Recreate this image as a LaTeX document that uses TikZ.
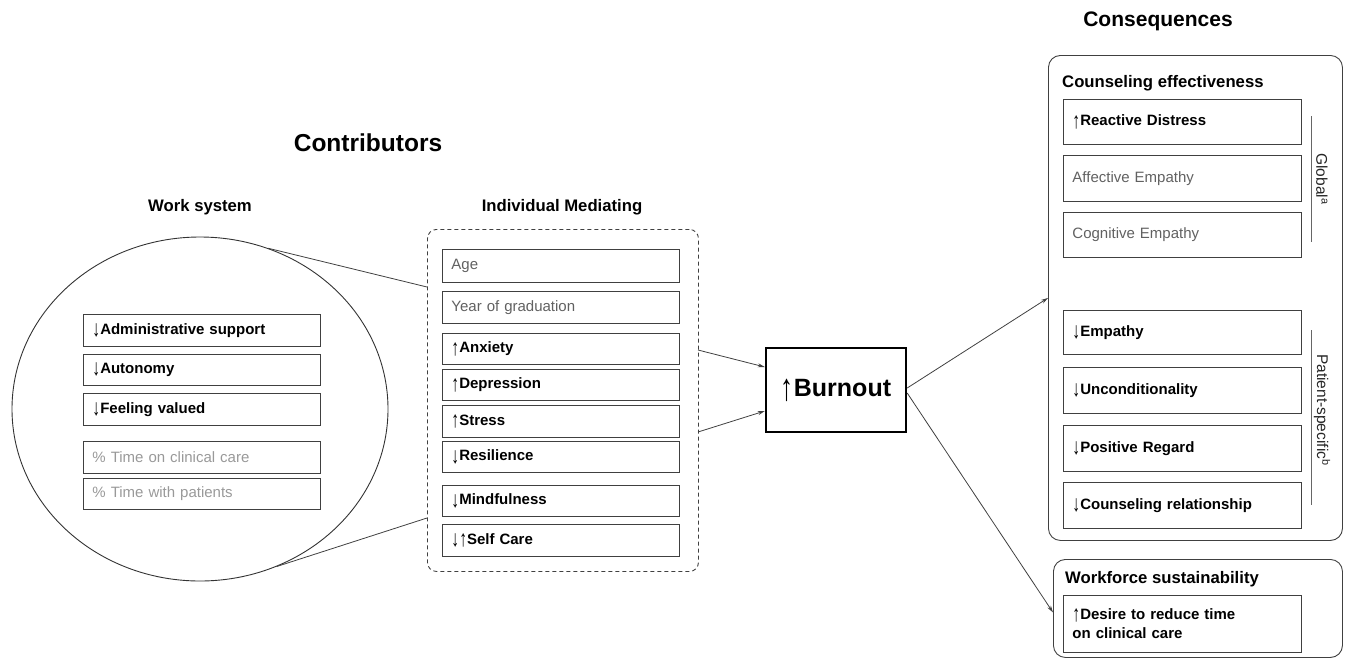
\documentclass[tikz,border=0pt]{standalone}
\usepackage{fontspec}
\usepackage{graphicx}
\setmainfont{Liberation Sans}
\usetikzlibrary{shapes.geometric,arrows.meta}
\newcommand\fsz[2]{\fontsize{#1}{#2}\selectfont}
\newsavebox\myarrbox
\newcommand\mkarr[1]{\sbox\myarrbox{\normalfont #1}\raisebox{-0.19em}{\resizebox*{0.52em}{0.9em}{\raisebox{\dp\myarrbox}{\usebox\myarrbox}}}}
\newcommand\ua{\mkarr{↑}}
\newcommand\da{\mkarr{↓}}
\begin{document}
\begin{tikzpicture}[x=1pt,y=-1pt,
  bx/.style={draw=black!75, line width=0.9pt, anchor=north west, inner xsep=9pt, inner ysep=0pt, align=left, font=\bfseries\fsz{15}{18}, text=black},
  gbx/.style={bx, font=\fsz{15}{18}, text=black!62},
  lbx/.style={bx, font=\fsz{15}{18}, text=black!40},
  wsw/.style={minimum width=237pt, text width=219pt},
  cw/.style={minimum width=238pt, text width=220pt},
  title/.style={font=\bfseries\fsz{21}{25}, inner sep=0pt},
  sub/.style={font=\bfseries\fsz{16.7}{20}, inner sep=0pt},
  grp/.style={draw=black!75, line width=0.9pt, rounded corners=12pt, anchor=north west, inner sep=0pt},
  conn/.style={draw=black!75, line width=0.8pt},
  arr/.style={conn, -{Stealth[length=7pt,width=4pt]}},
  side/.style={font=\fsz{15.5}{18}, text=black!85, rotate=-90, inner sep=0pt},
  bar/.style={draw=black!60, line width=1pt}
]
\useasboundingbox (0,0) rectangle (1346,667);

% titles
\node[title, font=\bfseries\fsz{24.5}{28}] (contrib) at (368,143) {Contributors};
\node[title] (conseq) at (1158,21) {Consequences};
\node[sub] (wslab) at (200,207) {Work system};
\node[sub] (indlab) at (562,207) {Individual Mediating};

% work system ellipse
\node[draw=black!80, line width=0.9pt, ellipse, minimum width=376pt, minimum height=344pt, inner sep=0pt] (ws) at (200,409) {};
\node[bx, wsw, minimum height=32pt] (ws1) at (83,314) {\da Administrative support};
\node[bx, wsw, minimum height=31pt] (ws2) at (83,354) {\da Autonomy};
\node[bx, wsw, minimum height=32pt] (ws3) at (83,393) {\da Feeling valued};
\node[lbx, wsw, minimum height=32pt] (ws4) at (83,441) {\% Time on clinical care};
\node[lbx, wsw, minimum height=31pt] (ws5) at (83,478) {\% Time with patients};

% individual mediating
\node[draw=black!75, line width=0.9pt, dash pattern=on 4pt off 3pt, rounded corners=9pt, anchor=north west, inner sep=0pt, minimum width=271pt, minimum height=342pt] (ind) at (427,229) {};
\node[gbx, wsw, minimum height=33pt] (im1) at (442,249) {Age};
\node[gbx, wsw, minimum height=32pt] (im2) at (442,291) {Year of graduation};
\node[bx, wsw, minimum height=31pt] (im3) at (442,333) {\ua Anxiety};
\node[bx, wsw, minimum height=31pt] (im4) at (442,369) {\ua Depression};
\node[bx, wsw, minimum height=32pt] (im5) at (442,405) {\ua Stress};
\node[bx, wsw, minimum height=31pt] (im6) at (442,441) {\da Resilience};
\node[bx, wsw, minimum height=31pt] (im7) at (442,485) {\da Mindfulness};
\node[bx, wsw, minimum height=32pt] (im8) at (442,524) {\da\ua Self Care};

\coordinate (indA) at (427,287);
\coordinate (indB) at (427,518);
\coordinate (indC) at (698,350);
\coordinate (indD) at (698,432);

\draw[conn] (ws.67) -- (indA);
\draw[conn] (ws.-64) -- (indB);

% burnout
\node[draw=black, line width=2.4pt, minimum width=140pt, minimum height=84pt, font=\bfseries\fsz{25}{30}] (bo) at (836,390) {\ua Burnout};
\draw[arr] (indC) -- ([yshift=23pt]bo.west);
\draw[arr] (indD) -- ([yshift=-21pt]bo.west);

% consequences
\node[grp, minimum width=294pt, minimum height=485pt] (ce) at (1048,55) {};
\node[sub, anchor=west] (celab) at (1062,83) {Counseling effectiveness};
\node[bx, cw, minimum height=45pt] (c1) at (1063,99) {\ua Reactive Distress};
\node[gbx, cw, minimum height=46pt] (c2) at (1063,155) {Affective Empathy};
\node[gbx, cw, minimum height=45pt] (c3) at (1063,212) {Cognitive Empathy};
\node[bx, cw, minimum height=44pt] (c4) at (1063,310) {\da Empathy};
\node[bx, cw, minimum height=46pt] (c5) at (1063,367) {\da Unconditionality};
\node[bx, cw, minimum height=46pt] (c6) at (1063,425) {\da Positive Regard};
\node[bx, cw, minimum height=46pt] (c7) at (1063,482) {\da Counseling relationship};

\coordinate (g1) at (1311,116);
\coordinate (g2) at (1311,242);
\coordinate (p1) at (1311,330);
\coordinate (p2) at (1311,505);
\draw[bar] (g1) -- (g2);
\draw[bar] (p1) -- (p2);
\node[side] (glob) at (1322,179) {Global\textsuperscript{a}};
\node[side] (pat) at (1322,410) {Patient-specific\textsuperscript{b}};

\node[grp, minimum width=289pt, minimum height=98pt] (wf) at (1053,559) {};
\node[sub, anchor=west] (wflab) at (1065,579) {Workforce sustainability};
\node[bx, cw, minimum height=57pt, font=\bfseries\fsz{15}{19}] (w1) at (1063,595) {\ua Desire to reduce time\\on clinical care};

\draw[arr] ([yshift=2pt]bo.east) -- (ce.west);
\draw[arr] ([yshift=-3pt]bo.east) -- ([yshift=-4pt]wf.west);
\end{tikzpicture}
\end{document}
